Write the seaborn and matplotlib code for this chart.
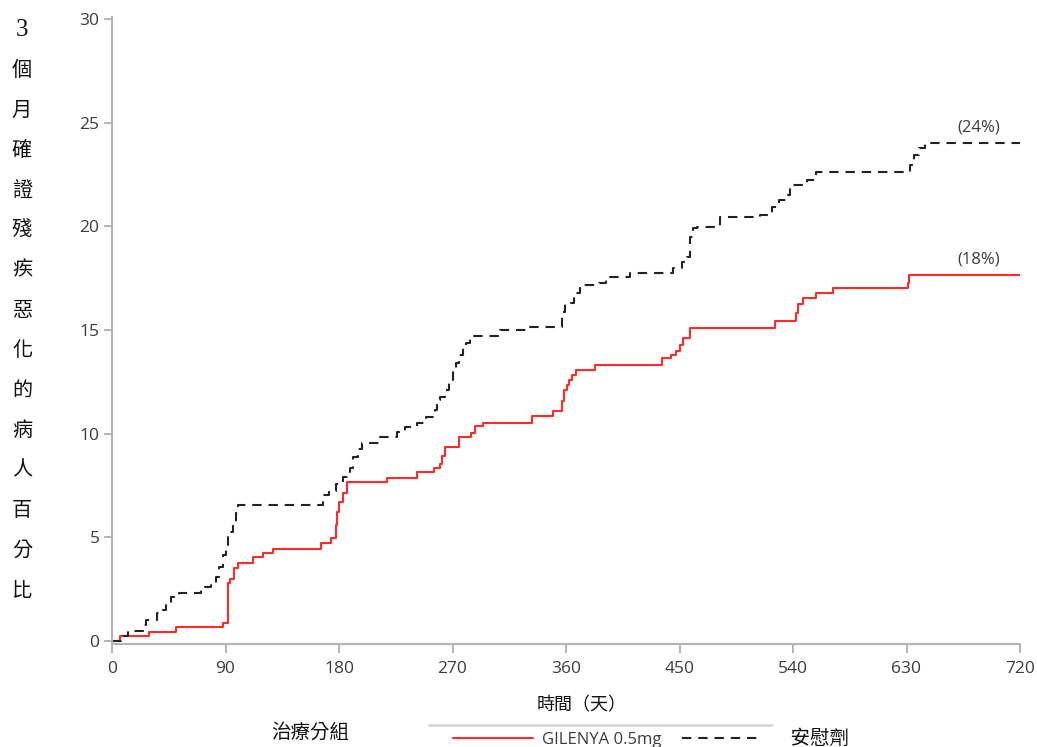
import matplotlib
matplotlib.use("Agg")
import matplotlib.pyplot as plt
from matplotlib.lines import Line2D
import numpy as np
import pandas as pd
import seaborn as sns

# Kaplan-Meier style cumulative percentages (step changes: day, percent after the step)
gilenya_days = [0, 6.4, 29.6, 50.8, 88.4, 91.8, 93.7, 97, 99.8, 112, 120, 128, 166, 174,
                177.5, 178.5, 180, 183, 186, 218, 242, 255, 260, 262, 264, 275, 285, 288,
                294, 333, 350, 357, 358.5, 360.5, 362, 365, 368, 383, 436, 443, 447, 450,
                453, 458, 525.5, 542, 544, 548, 558, 572, 631, 632, 720]
gilenya_pct = [0, 0.24, 0.45, 0.69, 0.88, 2.8, 3.0, 3.5, 3.75, 4.05, 4.26, 4.42, 4.74, 4.96,
               5.6, 6.24, 6.72, 7.12, 7.68, 7.88, 8.14, 8.33, 8.54, 8.9, 9.37, 9.86, 10.05, 10.37,
               10.53, 10.85, 11.1, 11.6, 12.1, 12.35, 12.6, 12.85, 13.07, 13.3, 13.64, 13.8, 14.0, 14.28,
               14.6, 15.11, 15.44, 15.84, 16.24, 16.53, 16.8, 17.01, 17.25, 17.66, 17.66]

placebo_days = [0, 7, 12.4, 25.6, 27, 36, 39, 43, 47, 53.5, 70.7, 78.6, 82.6, 85, 87.8, 90,
                91.8, 95.8, 98.5, 99.8, 167, 172, 178, 183, 189, 191, 195, 198, 212, 225.6,
                232, 241.5, 249, 256, 258, 260, 264, 267, 270.6, 273, 275, 278.5, 281, 284,
                307.6, 329, 356.5, 359, 366, 371, 386, 392, 411, 445, 452, 456, 458, 461,
                464, 482.4, 514, 523, 528.6, 535, 538, 551, 558, 633, 636, 640, 645, 720]
placebo_pct = [0, 0.24, 0.5, 0.75, 1.0, 1.34, 1.5, 1.82, 2.14, 2.33, 2.62, 2.78, 3.1, 3.58, 4.15, 4.63,
               5.27, 5.6, 6.16, 6.56, 7.04, 7.25, 7.57, 7.93, 8.33, 8.89, 9.25, 9.54, 9.86, 10.07,
               10.31, 10.5, 10.82, 11.14, 11.63, 11.78, 12.1, 12.43, 13.0, 13.4, 13.8, 14.12, 14.36, 14.71,
               15.0, 15.16, 15.88, 16.29, 16.77, 17.17, 17.25, 17.57, 17.74, 17.98, 18.3, 18.54, 19.5, 19.9,
               19.97, 20.45, 20.55, 20.92, 21.27, 21.5, 22.0, 22.24, 22.64, 22.96, 23.44, 23.77, 24.04, 24.04]

group_names = ["GILENYA 0.5mg", "安慰劑"]
x_ticks = [0, 90, 180, 270, 360, 450, 540, 630, 720]
y_ticks = [0, 5, 10, 15, 20, 25, 30]
y_label = "3個月確證殘疾惡化的病人百分比"
x_label = "時間（天）"
legend_title = "治療分組"

df = pd.concat([
    pd.DataFrame({"day": gilenya_days, "pct": gilenya_pct, "group": group_names[0]}),
    pd.DataFrame({"day": placebo_days, "pct": placebo_pct, "group": group_names[1]}),
], ignore_index=True)

sns.set_style("ticks")
plt.rcParams["font.family"] = ["Open Sans", "Noto Sans CJK TC", "DejaVu Sans"]

W, H = 1037, 747
fig = plt.figure(figsize=(W / 100, H / 100), dpi=100)
ax = fig.add_axes([112 / W, (H - 644) / H, (1020 - 112) / W, (644 - 17) / H])

palette = {group_names[0]: "#ff2a2a", group_names[1]: "#222222"}
dashes = {group_names[0]: "", group_names[1]: (4.5, 3.3)}
sns.lineplot(data=df, x="day", y="pct", hue="group", style="group",
             palette=palette, dashes=dashes, estimator=None, sort=False,
             drawstyle="steps-post", linewidth=1.5, legend=False, ax=ax)

ax.set_xlim(0, 720)
ax.set_ylim(-0.145, 30.1)
ax.set_xticks(x_ticks)
ax.set_yticks(y_ticks)
ax.set_xlabel("")
ax.set_ylabel("")
sns.despine(ax=ax)
for side in ("left", "bottom"):
    ax.spines[side].set_color("#b4b4b4")
    ax.spines[side].set_linewidth(1.5)
ax.tick_params(axis="both", colors="#a8a8a8", labelcolor="#3c3c3c", labelsize=12.5,
               width=1.2)
ax.tick_params(axis="y", length=5.5, pad=3.5)
ax.tick_params(axis="x", length=6.5, pad=6)

# End-of-follow-up percentage labels
for days, pct in ((placebo_days, placebo_pct), (gilenya_days, gilenya_pct)):
    final = pct[-1]
    ax.text(687, final + 0.75, f"({round(final):.0f}%)", ha="center", va="center",
            fontsize=12, color="#3c3c3c")

# Vertical stacked y-axis title
for i, ch in enumerate(y_label):
    if ch.isdigit():
        fam, size = ["Liberation Serif"], 18
    else:
        fam, size = ["Noto Sans CJK TC", "DejaVu Sans"], 14.5
    fig.text(22 / W, 1 - (30 + 40 * i) / H, ch, ha="center", va="center",
             fontsize=size, family=fam, color="#111111")

# x-axis title
fig.text(582 / W, 1 - 705 / H, x_label, ha="center", va="center", fontsize=13,
         family=["Noto Sans CJK TC", "DejaVu Sans"], color="#111111")

# Legend block
fig.text(310 / W, 1 - 732 / H, legend_title, ha="center", va="center", fontsize=14,
         family=["Noto Sans CJK TC", "DejaVu Sans"], color="#111111")
fig.add_artist(Line2D([429 / W, 772 / W], [1 - 725 / H, 1 - 725 / H],
                      color="#d2d2d2", linewidth=1.8))
handles = list(ax.get_lines())[:2]
legend_labels = [group_names[0], "\u3000" + group_names[1]]
leg = fig.legend(handles, legend_labels, ncol=2, loc="center left",
                 bbox_to_anchor=(453 / W, 1 - 739 / H), frameon=False,
                 handlelength=4.8, handletextpad=0.55, columnspacing=1.2,
                 borderpad=0, borderaxespad=0,
                 prop={"family": ["Open Sans", "Noto Sans CJK TC"], "size": 12})
for t in leg.get_texts():
    t.set_color("#3c3c3c")
leg.get_texts()[1].set_fontsize(14)
leg.get_texts()[1].set_color("#111111")

fig.savefig("out.png", dpi=100)
